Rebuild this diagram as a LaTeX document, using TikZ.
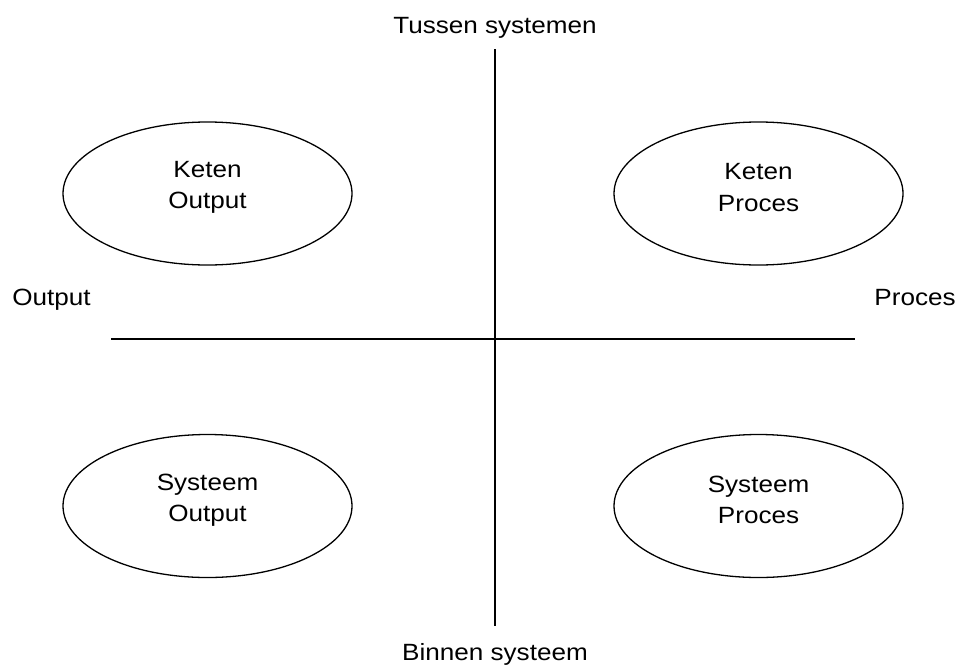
\documentclass[tikz,border=0pt]{standalone}
\usepackage{fontspec}
\setmainfont{Liberation Sans}[FakeStretch=1.11]
\usetikzlibrary{shapes.geometric}
\begin{document}
\begin{tikzpicture}[x=1pt,y=-1pt,
  axis/.style={line width=1.3pt},
  oval/.style={ellipse,draw,line width=1.3pt,minimum width=289pt,minimum height=143pt,inner sep=0pt},
  txt/.style={align=center,inner sep=0pt,yshift=6pt,font=\fontsize{23.5}{31.5}\selectfont},
  lbl/.style={anchor=base,inner sep=0pt,font=\fontsize{23.5}{31.5}\selectfont}]
\useasboundingbox (0,0) rectangle (957,664);
\coordinate (vt) at (495,49);
\coordinate (vb) at (495,626);
\coordinate (hl) at (111,339);
\coordinate (hr) at (855,339);
\draw[axis] (vt) -- (vb);
\draw[axis] (hl) -- (hr);
\node[oval] (ko) at (207.5,193.5) {};
\node[oval] (kp) at (758.5,193.5) {};
\node[oval] (so) at (207.5,506) {};
\node[oval] (sp) at (758.5,506) {};
\node[txt] (kot) at (ko.center) {Keten\\Output};
\node[txt] (kpt) at (kp.center) {Keten\\Proces};
\node[txt] (sot) at (so.center) {Systeem\\Output};
\node[txt] (spt) at (sp.center) {Systeem\\Proces};
\node[lbl] (top) at (495,33.5) {Tussen systemen};
\node[lbl] (bot) at (495,660) {Binnen systeem};
\node[lbl] (left) at (51.5,305.5) {Output};
\node[lbl] (right) at (915,305.5) {Proces};
\end{tikzpicture}
\end{document}
